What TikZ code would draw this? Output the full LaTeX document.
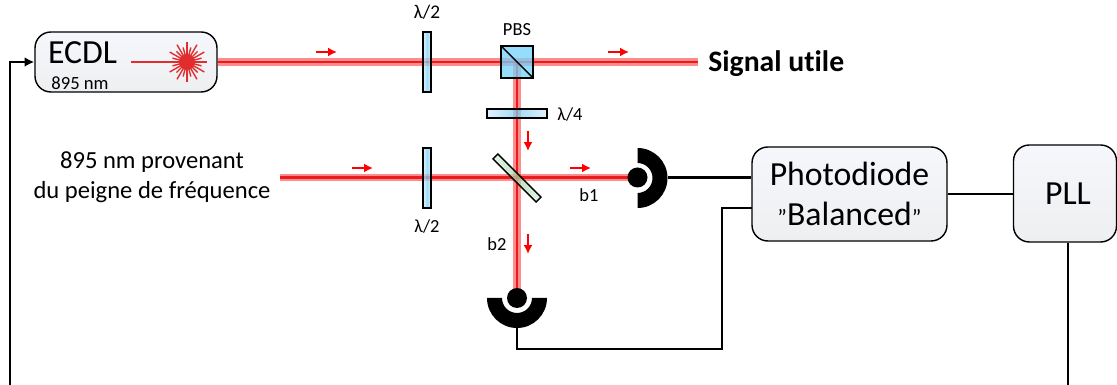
\documentclass[tikz,border=0pt]{standalone}
\usepackage{fontspec}
\setmainfont[Ligatures=NoCommon]{Carlito}
\usetikzlibrary{arrows.meta}
\definecolor{boxtop}{RGB}{245,247,252}
\definecolor{boxbot}{RGB}{238,239,240}
\definecolor{plateblue}{RGB}{120,205,245}
\definecolor{platepale}{RGB}{215,235,248}
\definecolor{cubeblue}{RGB}{115,210,250}
\definecolor{bsgreen}{RGB}{165,215,170}
\definecolor{bspale}{RGB}{220,240,222}
\definecolor{laserred}{RGB}{225,45,45}
\tikzset{
    boite/.style={draw=black, line width=0.8pt, rounded corners=9pt, top color=boxtop, bottom color=boxbot, inner sep=0pt},
    lame/.style={draw=black, line width=0.8pt, inner sep=0pt, left color=platepale, right color=platepale, middle color=plateblue, fill opacity=0.72},
    halo/.style={line width=4.2pt, red!75!white, opacity=0.6},
    coeur/.style={line width=1.7pt, red!90!black, opacity=0.8},
    fil/.style={line width=1.5pt, black},
    fleche/.style={line width=1.4pt, red, -{Latex[length=5pt,width=5pt]}},
    petit/.style={font=\fontsize{10.5}{12}\selectfont, inner sep=0pt},
    moyen/.style={font=\fontsize{14}{17}\selectfont, inner sep=0pt},
    grand/.style={font=\fontsize{19.2}{24}\selectfont, inner sep=0pt},
}
\begin{document}
\begin{tikzpicture}[x=0.02cm, y=0.02cm]
    \useasboundingbox (0,0) rectangle (1117,385);

    % Reperes
    \coordinate (depart) at (280,207.5);
    \coordinate (finsignal) at (698,323);
    \coordinate (bas) at (517,87);
    \coordinate (retour) at (10,0);
    \coordinate (sortiepll) at (1068,0);
    \coordinate (coudeb) at (722,36);
    \coordinate (entreeb) at (752,177);
    \coordinate (sortieb) at (517,57);
    \coordinate (sortiea) at (668,207.5);

    % Boites
    \node[boite, minimum width=3.64cm, minimum height=1.2cm] (ECDL) at (126,323) {};
    \node[boite, minimum width=3.9cm, minimum height=1.88cm, align=center, grand] (PD) at (849.5,191)
        {Photodiode\\[-1pt]{\fontsize{13}{13}\selectfont"}Balanced{\fontsize{13}{13}\selectfont"}};
    \node[boite, minimum width=2.06cm, minimum height=1.94cm, grand] (PLL) at (1065,191.5) {\hspace{3.4pt}\raisebox{-1pt}{PLL}};

    % Faisceaux
    \foreach \st in {halo, coeur} {
        \draw[\st] (ECDL.east) -- (finsignal);
        \draw[\st] (517,323) -- (bas);
        \draw[\st] (depart) -- (637.5,207.5);
    }

    % Lames
    \node[lame, minimum width=0.16cm, minimum height=1.2cm] (lamea) at (427,323) {};
    \node[lame, minimum width=0.16cm, minimum height=1.2cm] (lameb) at (427,207) {};
    \node[lame, minimum width=1.2cm, minimum height=0.18cm] (lamec) at (517,271.5) {};
    \node[draw=black, line width=0.8pt, inner sep=0pt, minimum width=1.22cm, minimum height=0.14cm, rotate=-45,
        left color=bspale, right color=bspale, middle color=bsgreen, fill opacity=0.72] (lame) at (517,207) {};
    \node[draw=black, line width=0.8pt, fill=cubeblue, fill opacity=0.75, inner sep=0pt, minimum size=0.64cm] (PBS) at (517,323) {};
    \draw[line width=0.8pt] (PBS.north west) -- (PBS.south east);

    % Detecteurs
    \fill (637.5,237) arc[start angle=90, end angle=-90, radius=30]
        -- (637.5,192) arc[start angle=-90, end angle=90, radius=15] -- cycle;
    \fill (487,87) arc[start angle=180, end angle=360, radius=30]
        -- (532,87) arc[start angle=360, end angle=180, radius=15] -- cycle;
    \node[circle, fill=black, inner sep=0pt, minimum size=0.4cm] (deta) at (637.5,207.5) {};
    \node[circle, fill=black, inner sep=0pt, minimum size=0.4cm] (detb) at (517,87) {};

    % Fils
    \draw[fil] (sortiea) -- (sortiea -| PD.west);
    \draw[fil] (sortieb) |- (coudeb) |- (entreeb);
    \draw[fil] (PD.east) -- (PD.east -| PLL.west);
    \draw[fil] (sortiepll |- PLL.south) -- (sortiepll);
    \draw[fil, -{Latex[length=5.5pt,width=5.5pt]}] (retour) |- (ECDL.west);

    % Fleches
    \foreach \x in {316,608}
        \draw[fleche] (\x,333) -- ++(21,0);
    \foreach \x in {352,570}
        \draw[fleche] (\x,217) -- ++(21,0);
    \foreach \y in {254,151}
        \draw[fleche] (528,\y) -- ++(0,-20);

    % Laser
    \draw[laserred, line width=0.8pt] (131,323) -- (207,323);
    \foreach \a in {0,15,...,345}
        \draw[laserred, line width=0.8pt] (187,323) -- ++(\a:{mod(\a,30)==0 ? 20 : 15});
    \fill[laserred] (187,323) circle (8);

    % Textes
    \node[grand] (tecdl) at (82.5,332) {ECDL};
    \node[font=\fontsize{10.6}{12}\selectfont, inner sep=0pt] (tnm) at (80,302) {895 nm};
    \node[petit, font=\fontsize{11}{12}\selectfont] (tla) at (427,373) {λ/2};
    \node[petit] (tpbs) at (517,355) {PBS};
    \node[petit] (tlc) at (570,271) {λ/4};
    \node[petit] (tlb) at (427,159) {λ/2};
    \node[petit] (tba) at (589,190) {b1};
    \node[petit] (tbb) at (497,141) {b2};
    \node[inner sep=0pt, anchor=west, font=\fontsize{16.9}{19}\selectfont\bfseries] (tsig) at (708,321) {Signal utile};
    \node[moyen, align=center] (tpeigne) at (152,208) {895 nm provenant\\du peigne de fréquence};
\end{tikzpicture}
\end{document}
